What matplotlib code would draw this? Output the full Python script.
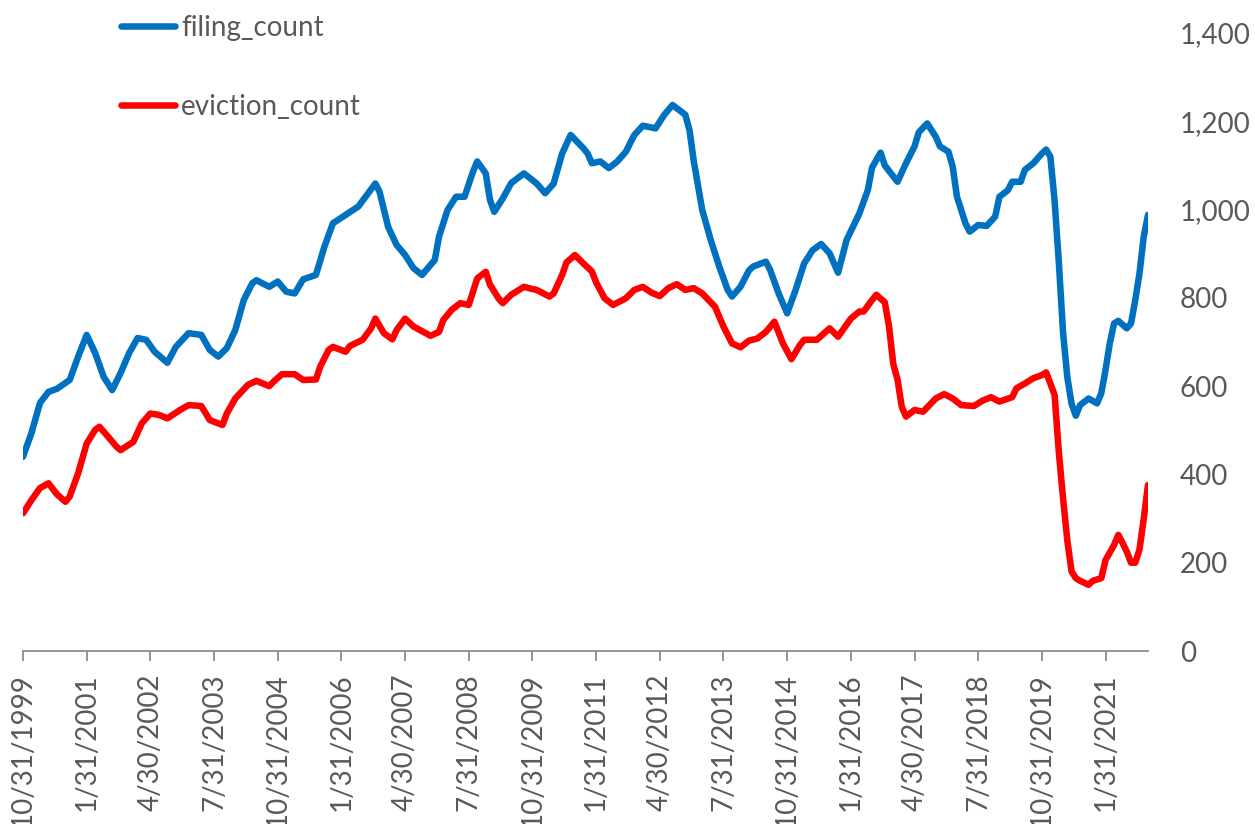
import numpy as np
import pandas as pd
import matplotlib
matplotlib.use("Agg")
import matplotlib.pyplot as plt
from matplotlib.ticker import FuncFormatter

plt.rcParams['font.family'] = ['Lato', 'DejaVu Sans']

# months since 10/31/1999 and values
filing_month = [0, 2, 4, 6, 8, 11, 13, 15, 17, 19, 21, 23, 25, 27, 29, 31, 34, 36, 39, 42,
                44, 46, 48, 50, 52, 54, 55, 58, 60, 62, 64, 66, 69, 71, 73, 76, 79, 81, 83, 84,
                86, 88, 90, 92, 94, 97, 98, 100, 102, 104, 106, 107, 109, 110, 111, 113, 115, 118, 121, 123,
                125, 127, 129, 132, 133, 134, 136, 138, 140, 142, 144, 146, 149, 151, 153, 156, 157, 158, 160, 162,
                164, 166, 167, 169, 171, 172, 175, 176, 178, 180, 182, 184, 186, 188, 190, 192, 194, 197, 199, 200,
                202, 203, 206, 208, 210, 211, 213, 215, 216, 218, 219, 220, 222, 223, 225, 227, 229, 230, 232, 233,
                235, 236, 238, 240, 241, 242, 243, 244, 245, 246, 247, 248, 249, 251, 253, 254, 255, 256, 257, 258,
                260, 261, 262, 263, 264, 265]
filing_count = [440, 494, 562, 587, 594, 614, 667, 716, 675, 621, 591, 630, 675, 709, 705, 678, 653, 689, 720, 716,
                682, 667, 686, 727, 795, 833, 840, 825, 837, 814, 810, 842, 852, 916, 969, 988, 1007, 1033, 1059, 1040,
                961, 920, 897, 867, 852, 886, 939, 999, 1029, 1029, 1086, 1109, 1082, 1022, 995, 1025, 1060, 1082, 1059, 1037,
                1059, 1127, 1169, 1139, 1127, 1105, 1109, 1094, 1109, 1131, 1169, 1190, 1184, 1214, 1237, 1215, 1180, 1110, 999, 931,
                871, 818, 803, 825, 862, 871, 882, 863, 810, 765, 818, 878, 908, 922, 901, 857, 931, 991, 1044, 1095,
                1129, 1100, 1063, 1105, 1143, 1175, 1195, 1165, 1143, 1131, 1097, 1029, 969, 950, 965, 963, 984, 1029, 1044, 1063,
                1063, 1090, 1105, 1127, 1136, 1120, 1020, 880, 720, 620, 560, 533, 557, 572, 561, 584, 637, 697, 742, 748,
                731, 742, 795, 856, 939, 988]

eviction_month = [0, 2, 4, 6, 8, 10, 11, 13, 15, 17, 18, 20, 22, 23, 26, 28, 30, 32, 34, 37,
                  39, 42, 44, 47, 48, 50, 53, 55, 58, 59, 61, 64, 66, 69, 70, 72, 73, 76, 77, 80,
                  82, 83, 85, 87, 88, 90, 92, 96, 98, 99, 101, 103, 105, 106, 107, 109, 110, 112, 113, 115,
                  118, 120, 121, 124, 125, 127, 128, 130, 132, 134, 135, 137, 139, 142, 144, 146, 148, 150, 152, 154,
                  156, 158, 160, 163, 165, 167, 169, 171, 173, 175, 177, 179, 181, 183, 184, 187, 190, 192, 195, 197,
                  198, 200, 201, 203, 204, 205, 206, 207, 208, 210, 212, 215, 217, 219, 221, 224, 226, 228, 230, 233,
                  234, 236, 238, 240, 241, 242, 243, 244, 245, 246, 247, 248, 249, 251, 252, 254, 255, 257, 258, 259,
                  260, 261, 262, 263, 264, 265]
eviction_count = [312, 342, 369, 380, 355, 338, 350, 403, 470, 501, 508, 486, 463, 455, 474, 516, 538, 535, 527, 546,
                  557, 555, 523, 512, 538, 572, 603, 612, 600, 610, 627, 627, 614, 615, 644, 682, 689, 678, 691, 705,
                  731, 753, 720, 706, 727, 753, 735, 714, 723, 750, 773, 788, 784, 814, 844, 859, 830, 799, 788, 807,
                  825, 820, 818, 803, 810, 852, 880, 897, 878, 860, 835, 799, 784, 799, 818, 825, 812, 804, 822, 831,
                  818, 822, 810, 780, 735, 697, 688, 703, 708, 723, 746, 697, 661, 693, 705, 705, 731, 712, 753, 769,
                  769, 795, 807, 790, 735, 650, 615, 553, 531, 546, 542, 572, 582, 572, 557, 555, 567, 575, 565, 575,
                  595, 606, 618, 625, 631, 606, 580, 450, 345, 250, 180, 165, 159, 150, 159, 165, 206, 240, 263, 245,
                  225, 200, 200, 230, 300, 376]

START = pd.Timestamp('1999-10-31')
N_MONTHS = 266
TICK_EVERY = 15

tick_pos = list(range(0, N_MONTHS, TICK_EVERY))
tick_dates = [START + pd.offsets.MonthEnd(m) for m in tick_pos]
tick_labels = [f"{d.month}/{d.day}/{d.year}" for d in tick_dates]

GREY = '#595959'
FS = 20

fig = plt.figure(figsize=(12.55, 8.24), dpi=100)
ax = fig.add_axes([23/1255, 1 - 651/824, (1148 - 23)/1255, (651 - 33)/824])

ax.plot(filing_month, filing_count, color='#0070C0', lw=4.7, solid_capstyle='round',
        solid_joinstyle='round', label='filing_count')
ax.plot(eviction_month, eviction_count, color='#FF0000', lw=4.7, solid_capstyle='round',
        solid_joinstyle='round', label='eviction_count')

ax.set_xlim(0, N_MONTHS - 1)
ax.set_ylim(0, 1400)

ax.set_xticks(tick_pos)
ax.set_xticklabels(tick_labels, rotation=90, fontsize=FS, color=GREY)
ax.tick_params(axis='x', length=7, width=1.3, color='#8C8C8C', pad=9)

ax.yaxis.tick_right()
ax.set_yticks(range(0, 1401, 200))
ax.yaxis.set_major_formatter(FuncFormatter(lambda v, p: f"{int(v):,}"))
ax.tick_params(axis='y', length=0, pad=23, labelsize=FS, labelcolor=GREY)

for s in ['top', 'left', 'right']:
    ax.spines[s].set_visible(False)
ax.spines['bottom'].set_color('#8C8C8C')
ax.spines['bottom'].set_linewidth(1.3)

leg = ax.legend(loc='upper left', bbox_to_anchor=(121/1255, 1 - 15/824), bbox_transform=fig.transFigure,
                frameon=False, fontsize=FS, handlelength=1.95, handletextpad=0.22,
                labelspacing=1.9, borderpad=0, borderaxespad=0)
for t in leg.get_texts():
    t.set_color(GREY)

fig.savefig('out.png', dpi=100)
